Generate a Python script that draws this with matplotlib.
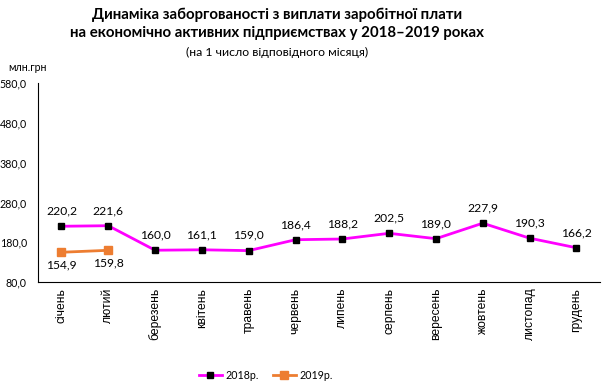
import matplotlib.pyplot as plt
from matplotlib.lines import Line2D

months = ["січень", "лютий", "березень", "квітень", "травень", "червень",
          "липень", "серпень", "вересень", "жовтень", "листопад", "грудень"]
debt_2018 = [220.2, 221.6, 160.0, 161.1, 159.0, 186.4, 188.2, 202.5, 189.0, 227.9, 190.3, 166.2]
debt_2019 = [154.9, 159.8]
y_ticks = [80, 180, 280, 380, 480, 580]

fig = plt.figure(figsize=(6.04, 3.88), dpi=100)
ax = fig.add_axes([0.063, 0.273, 0.930, 0.513])

x = list(range(len(months)))
ax.plot(x, debt_2018, color="#FF00FF", lw=2, marker="s", ms=5,
        mfc="black", mec="black", zorder=3)
ax.plot(x[:len(debt_2019)], debt_2019, color="#ED7D31", lw=2, marker="s", ms=6,
        mfc="#ED7D31", mec="#ED7D31", zorder=3)

lab_font = "Lato"
for i, v in enumerate(debt_2018):
    ax.annotate(f"{v:.1f}".replace(".", ","), (i, v), xytext=(0, 7),
                textcoords="offset points", ha="center", va="bottom",
                fontsize=8.7, family=lab_font)
for i, v in enumerate(debt_2019):
    ax.annotate(f"{v:.1f}".replace(".", ","), (i, v), xytext=(0, -5),
                textcoords="offset points", ha="center", va="top",
                fontsize=8.7, family=lab_font)

ax.set_xlim(-0.5, len(months) - 0.5)
ax.set_ylim(80, 580)
ax.set_yticks(y_ticks)
ax.set_yticklabels([f"{t:.1f}".replace(".", ",") for t in y_ticks],
                   fontsize=7.7, family=lab_font)
ax.set_xticks(x)
ax.set_xticklabels(months, rotation=90, fontsize=8.7, family="Liberation Sans")
ax.tick_params(length=0, pad=4)
ax.tick_params(axis="y", pad=8)
for s in ["top", "right"]:
    ax.spines[s].set_visible(False)
ax.spines["left"].set_linewidth(0.8)
ax.spines["bottom"].set_linewidth(0.8)

fig.text(0.458, 0.963, "Динаміка заборгованості з виплати заробітної плати",
         ha="center", va="center", fontsize=10.8, weight="bold", family=lab_font)
fig.text(0.458, 0.914, "на економічно активних підприємствах у 2018–2019 роках",
         ha="center", va="center", fontsize=10.8, weight="bold", family=lab_font)
fig.text(0.458, 0.866, "(на 1 число відповідного місяця)",
         ha="center", va="center", fontsize=8.8, family=lab_font)
fig.text(0.013, 0.825, "млн.грн", ha="left", va="center", fontsize=7.6, family=lab_font)

handles = [
    Line2D([], [], color="#FF00FF", lw=2, marker="s", ms=5, mfc="black", mec="black"),
    Line2D([], [], color="#ED7D31", lw=2, marker="s", ms=6, mfc="#ED7D31", mec="#ED7D31"),
]
fig.legend(handles, ["2018р.", "2019р."], loc="center", bbox_to_anchor=(0.44, 0.033),
           ncol=2, frameon=False, prop={"family": lab_font, "size": 7.7},
           handlelength=2.2, columnspacing=1.3, handletextpad=0.3)

fig.savefig("out.png", dpi=100)
